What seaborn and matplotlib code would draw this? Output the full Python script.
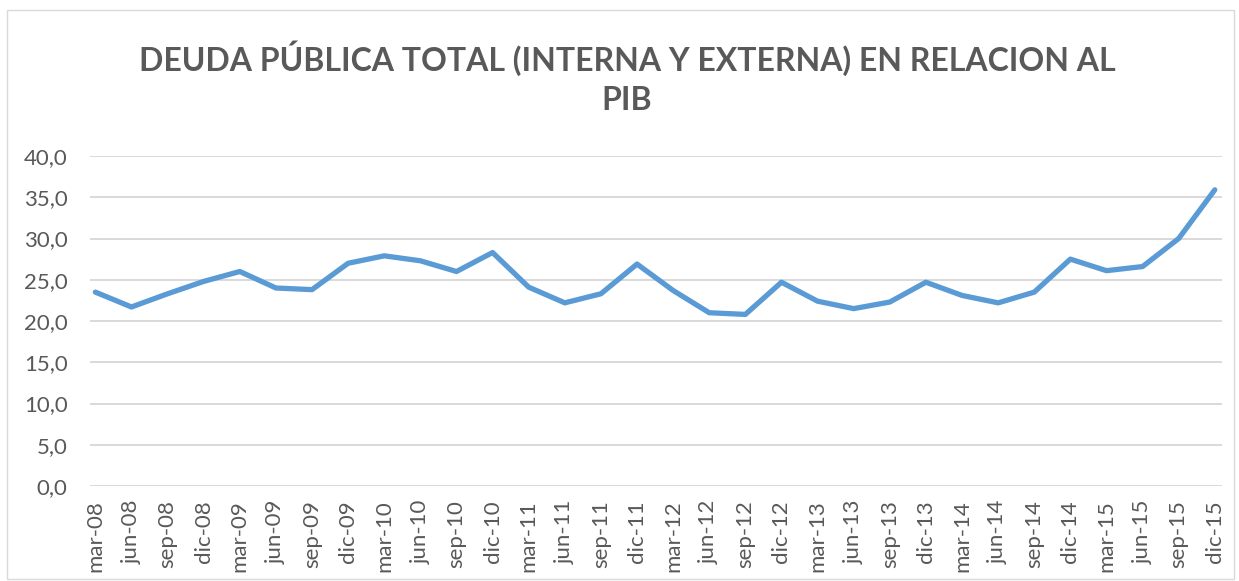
import matplotlib
matplotlib.use("Agg")
import matplotlib.pyplot as plt
import seaborn as sns
import pandas as pd
from matplotlib.ticker import FuncFormatter, MultipleLocator
from matplotlib.patches import Rectangle

# quarterly labels and debt/GDP values (%)
periodos = ['mar-08', 'jun-08', 'sep-08', 'dic-08', 'mar-09', 'jun-09', 'sep-09', 'dic-09',
            'mar-10', 'jun-10', 'sep-10', 'dic-10', 'mar-11', 'jun-11', 'sep-11', 'dic-11',
            'mar-12', 'jun-12', 'sep-12', 'dic-12', 'mar-13', 'jun-13', 'sep-13', 'dic-13',
            'mar-14', 'jun-14', 'sep-14', 'dic-14', 'mar-15', 'jun-15', 'sep-15', 'dic-15']
deuda_pib = [23.5, 21.7, 23.3, 24.8, 26.0, 24.0, 23.8, 27.0,
             27.9, 27.3, 26.0, 28.3, 24.1, 22.2, 23.3, 26.9,
             23.7, 21.0, 20.8, 24.7, 22.4, 21.5, 22.3, 24.7,
             23.1, 22.2, 23.5, 27.5, 26.1, 26.6, 30.0, 35.9]

df = pd.DataFrame({'periodo': periodos, 'valor': deuda_pib})
df['pos'] = range(len(df))

sns.set_style("white")
plt.rcParams['font.family'] = ['Lato', 'DejaVu Sans']
gris = '#595959'

fig = plt.figure(figsize=(12.39, 5.81), dpi=100)
ax = fig.add_axes([0.0726, 0.1635, 0.9137, 0.568])

sns.lineplot(data=df, x='pos', y='valor', ax=ax, color='#5b9bd5', linewidth=3.8,
             solid_capstyle='round', solid_joinstyle='round', zorder=3)

ax.set_ylim(0, 40)
ax.set_xlim(-0.15, 31.2)
ax.yaxis.set_major_locator(MultipleLocator(5))
ax.yaxis.set_major_formatter(FuncFormatter(lambda v, p: f"{v:.1f}".replace('.', ',')))
ax.set_xticks(df['pos'])
ax.set_xticklabels(df['periodo'], rotation=90)
ax.tick_params(axis='both', length=0, labelsize=16, labelcolor=gris)
ax.tick_params(axis='x', pad=10)
ax.tick_params(axis='y', pad=16)
ax.grid(axis='y', color='#d9d9d9', linewidth=1.4)
ax.set_xlabel('')
ax.set_ylabel('')
for s in ax.spines.values():
    s.set_visible(False)

fig.text(0.506, 0.866, 'DEUDA PÚBLICA TOTAL (INTERNA Y EXTERNA) EN RELACION AL\nPIB',
         ha='center', va='center', fontsize=23, fontweight='bold', color=gris,
         linespacing=1.4)

# thin chart border
fig.patches.append(Rectangle((0.006, 0.004), 0.99, 0.978, transform=fig.transFigure,
                             fill=False, edgecolor='#d9d9d9', linewidth=1.0))

fig.savefig('out.png', dpi=100)
